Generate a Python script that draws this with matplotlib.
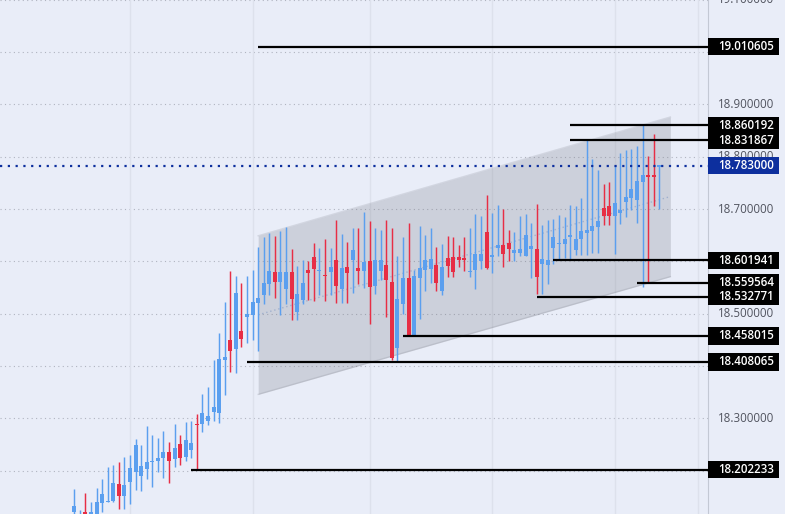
import matplotlib
matplotlib.use("Agg")
import matplotlib.pyplot as plt
from matplotlib.patches import Rectangle
from matplotlib.transforms import blended_transform_factory

# velas: maximo, techo del cuerpo, base del cuerpo, minimo
highs = [18.166,18.126,18.157,18.140,18.168,18.185,18.208,18.212,18.216,18.227,
         18.231,18.260,18.250,18.285,18.269,18.262,18.277,18.256,18.289,18.268,
         18.294,18.296,18.308,18.346,18.361,18.411,18.464,18.523,18.582,18.573,
         18.559,18.573,18.584,18.628,18.647,18.655,18.649,18.659,18.666,18.624,
         18.592,18.603,18.600,18.636,18.626,18.643,18.626,18.680,18.653,18.638,
         18.663,18.663,18.695,18.678,18.664,18.661,18.680,18.664,18.611,18.647,
         18.674,18.584,18.668,18.651,18.663,18.628,18.634,18.649,18.647,18.632,
         18.647,18.663,18.691,18.687,18.727,18.693,18.708,18.701,18.661,18.657,
         18.687,18.691,18.674,18.710,18.670,18.680,18.682,18.689,18.684,18.708,
         18.705,18.722,18.832,18.796,18.775,18.748,18.752,18.785,18.808,18.813,
         18.815,18.821,18.860,18.802,18.844,18.785]
tops = [18.132,18.118,18.122,18.122,18.140,18.155,18.143,18.176,18.174,18.172,
        18.206,18.250,18.210,18.216,18.218,18.225,18.235,18.235,18.243,18.252,
        18.258,18.254,18.290,18.310,18.304,18.321,18.414,18.418,18.449,18.539,
        18.468,18.500,18.523,18.531,18.558,18.582,18.580,18.579,18.579,18.580,
        18.537,18.559,18.584,18.609,18.584,18.575,18.590,18.602,18.588,18.590,
        18.622,18.588,18.598,18.601,18.603,18.603,18.594,18.560,18.529,18.569,
        18.569,18.573,18.588,18.603,18.605,18.594,18.590,18.607,18.609,18.609,
        18.607,18.582,18.615,18.615,18.657,18.613,18.632,18.632,18.636,18.621,
        18.624,18.651,18.630,18.624,18.605,18.603,18.647,18.636,18.642,18.651,
        18.643,18.659,18.661,18.668,18.678,18.703,18.705,18.712,18.699,18.724,
        18.739,18.754,18.766,18.766,18.766,18.785]
bottoms = [18.122,18.111,18.113,18.111,18.111,18.138,18.141,18.142,18.151,18.151,
           18.178,18.197,18.191,18.203,18.216,18.218,18.225,18.218,18.222,18.224,
           18.227,18.239,18.288,18.290,18.296,18.313,18.311,18.412,18.428,18.432,
           18.451,18.493,18.498,18.521,18.535,18.556,18.561,18.561,18.548,18.529,
           18.504,18.527,18.578,18.586,18.581,18.573,18.579,18.554,18.548,18.577,
           18.603,18.581,18.581,18.552,18.554,18.582,18.565,18.416,18.435,18.518,
           18.458,18.458,18.569,18.584,18.586,18.559,18.544,18.592,18.580,18.603,
           18.603,18.579,18.584,18.600,18.588,18.609,18.626,18.615,18.624,18.617,
           18.617,18.611,18.624,18.571,18.596,18.594,18.626,18.634,18.634,18.647,
           18.621,18.642,18.655,18.659,18.666,18.687,18.687,18.687,18.693,18.714,
           18.722,18.718,18.752,18.762,18.762,18.781]
lows = [18.107,18.103,18.100,18.100,18.098,18.122,18.140,18.140,18.128,18.128,
        18.136,18.164,18.162,18.184,18.170,18.197,18.187,18.176,18.208,18.212,
        18.218,18.224,18.203,18.275,18.287,18.296,18.292,18.344,18.388,18.386,
        18.437,18.445,18.449,18.428,18.519,18.535,18.531,18.497,18.518,18.489,
        18.489,18.519,18.527,18.525,18.535,18.525,18.535,18.521,18.521,18.521,
        18.540,18.556,18.550,18.481,18.537,18.565,18.493,18.411,18.409,18.499,
        18.458,18.458,18.491,18.544,18.558,18.544,18.535,18.571,18.571,18.590,
        18.582,18.571,18.548,18.586,18.586,18.577,18.611,18.590,18.601,18.600,
        18.611,18.611,18.569,18.537,18.537,18.556,18.596,18.603,18.607,18.603,
        18.613,18.613,18.613,18.617,18.617,18.670,18.670,18.615,18.672,18.685,
        18.699,18.674,18.552,18.558,18.706,18.701]
red_idx = [2,8,17,19,22,28,30,36,39,42,43,45,47,49,51,53,56,57,60,65,67,68,69,70,
           74,77,78,83,95,96,103,104]

# niveles horizontales y vela donde arrancan
levels = [19.010605,18.860192,18.831867,18.601941,18.559564,18.532771,18.458015,18.408065,18.202233]
level_start = [33,89,89,86,101,83,59,31,21]
last_price = 18.783
tick_prices = [19.1,18.9,18.8,18.7,18.5,18.3]
grid_prices = [19.1,19.0,18.9,18.8,18.7,18.6,18.5,18.4,18.3,18.2]
vgrid_idx = [10,32,53,75,97,112]

# canal
chan_x = [33,107]
chan_top = [18.649,18.876]
chan_bot = [18.346,18.571]
chan_mid = [18.498,18.724]

BG = "#E9EDF8"
BLUE = "#5B9FEF"
RED = "#E72E45"

fig = plt.figure(figsize=(7.85,5.14),dpi=100,facecolor=BG)
ax = fig.add_axes([0,0,708/785,1])
ax.set_facecolor(BG)
ax.set_xlim(-13.34,113.75)
ax.set_ylim(18.1175,19.0995)

for p in grid_prices:
    ax.axhline(p,color="#B0B4C0",lw=0.8,ls=(0,(1,3)),zorder=1)
for v in vgrid_idx:
    ax.axvline(v,color="#DDE1EC",lw=1,zorder=1)

ax.fill_between(chan_x,chan_bot,chan_top,color="#787B86",alpha=0.25,lw=0,zorder=1.5)
ax.plot(chan_x,chan_top,color="#787B86",alpha=0.2,lw=1,zorder=1.5)
ax.plot(chan_x,chan_bot,color="#787B86",alpha=0.2,lw=1,zorder=1.5)
ax.plot(chan_x,chan_mid,color="#8FA3C8",alpha=0.7,lw=1,ls=(0,(1,2)),zorder=1.6)

# velas
for i in range(len(highs)):
    c = RED if i in red_idx else BLUE
    ax.vlines(i,lows[i],highs[i],color=c,lw=1.05,zorder=2)
    ax.bar(i,tops[i]-bottoms[i],bottom=bottoms[i],width=0.72,color=c,zorder=3)

for lv,st in zip(levels,level_start):
    ax.plot([st,ax.get_xlim()[1]],[lv,lv],color="black",lw=1.6,zorder=5,solid_capstyle="butt")
ax.axhline(last_price,color="#0D2F9E",lw=1.6,ls=(0,(1,2.5)),zorder=5)

for s in ["top","left","bottom"]:
    ax.spines[s].set_visible(False)
ax.spines["right"].set_color("#C3C8D4")
ax.set_xticks([])
ax.set_yticks([])

# escala de precios a la derecha
tr = blended_transform_factory(ax.transAxes,ax.transData)
font = "Open Sans"
text_x = 1+10/708
for p in tick_prices:
    ax.text(text_x,p,"%.6f" % p,transform=tr,family=font,fontsize=8.3,color="#50535E",
            va="center",ha="left",clip_on=False,zorder=6)
box_w = 71/708
box_h = 17.5/524
for lv in levels:
    ax.add_patch(Rectangle((1,lv-box_h/2),box_w,box_h,transform=tr,color="black",lw=0,clip_on=False,zorder=7))
    ax.text(text_x,lv,"%.6f" % lv,transform=tr,family=font,fontsize=8.3,fontweight="semibold",color="white",
            va="center",ha="left",clip_on=False,zorder=8)
ax.add_patch(Rectangle((1,last_price-box_h/2),box_w,box_h,transform=tr,color="#0D2F9E",lw=0,clip_on=False,zorder=7))
ax.text(text_x,last_price,"%.6f" % last_price,transform=tr,family=font,fontsize=8.3,fontweight="semibold",color="white",
        va="center",ha="left",clip_on=False,zorder=8)

fig.savefig("out.png",dpi=100,facecolor=BG)
